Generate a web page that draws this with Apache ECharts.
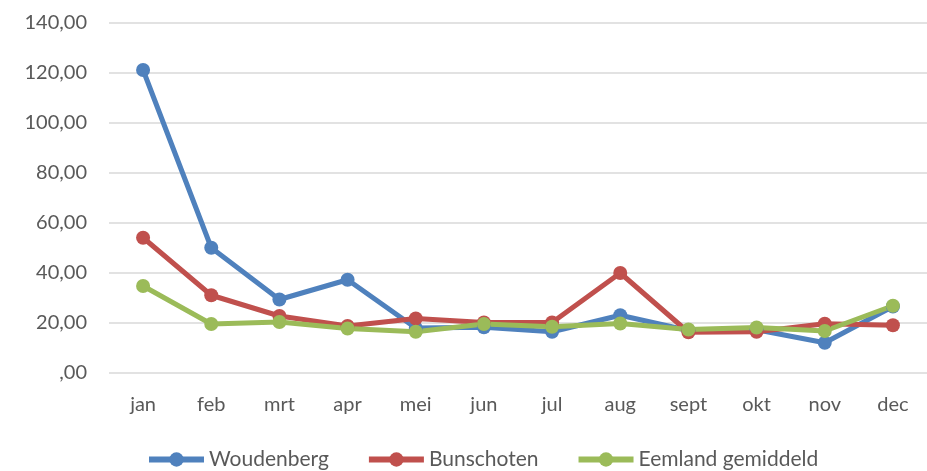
<!DOCTYPE html>
<html>
<head>
<meta charset="utf-8">
<script src="https://cdn.jsdelivr.net/npm/echarts@6/dist/echarts.min.js"></script>
<style>
  html, body { margin: 0; padding: 0; background: #fff; }
  #chart { width: 927px; height: 471px; }
</style>
</head>
<body>
<div id="chart"></div>
<script>
var months = ['jan', 'feb', 'mrt', 'apr', 'mei', 'jun', 'jul', 'aug', 'sept', 'okt', 'nov', 'dec'];
var woudenberg = [121.2, 50.1, 29.4, 37.3, 18.0, 18.3, 16.5, 23.1, 17.0, 17.3, 12.1, 26.6];
var bunschoten = [54.1, 31.1, 22.8, 18.8, 21.8, 20.2, 20.2, 40.0, 16.3, 16.5, 19.7, 19.1];
var eemland = [34.8, 19.6, 20.4, 17.8, 16.5, 19.6, 18.5, 19.8, 17.4, 18.2, 16.8, 26.9];
var seriesNames = ['Woudenberg', 'Bunschoten', 'Eemland gemiddeld'];

var dom = document.getElementById('chart');
var myChart = echarts.init(dom);
var font = 'Lato, "Open Sans", sans-serif';

function fmt(v) {
    if (v === 0) return ',00';
    return v.toFixed(2).replace('.', ',');
}

function lineSeries(name, data, color) {
    return {
        name: name,
        type: 'line',
        data: data,
        symbol: 'circle',
        symbolSize: 14,
        itemStyle: { color: color },
        lineStyle: { color: color, width: 5 },
        emphasis: { disabled: true }
    };
}

var option = {
    animation: false,
    textStyle: { fontFamily: font },
    grid: { left: 109, top: 23, width: 826, height: 350 },
    legend: {
        left: 141,
        top: 444,
        itemWidth: 55,
        itemHeight: 18,
        itemGap: 37,
        lineStyle: { width: 6 },
        textStyle: { fontSize: 21, color: '#595959', fontFamily: font },
        data: seriesNames
    },
    xAxis: {
        type: 'category',
        data: months,
        boundaryGap: true,
        axisLine: { show: false },
        axisTick: { show: false },
        axisLabel: { fontSize: 20, color: '#595959', margin: 22 }
    },
    yAxis: {
        type: 'value',
        min: 0,
        max: 140,
        interval: 20,
        axisLine: { show: false },
        axisTick: { show: false },
        splitLine: { lineStyle: { color: '#d9d9d9', width: 1.5 } },
        axisLabel: { fontSize: 20, color: '#595959', margin: 22, formatter: fmt }
    },
    series: [
        lineSeries(seriesNames[0], woudenberg, '#4f81bd'),
        lineSeries(seriesNames[1], bunschoten, '#c0504d'),
        lineSeries(seriesNames[2], eemland, '#9bbb59')
    ]
};

myChart.setOption(option, true);
</script>
</body>
</html>
